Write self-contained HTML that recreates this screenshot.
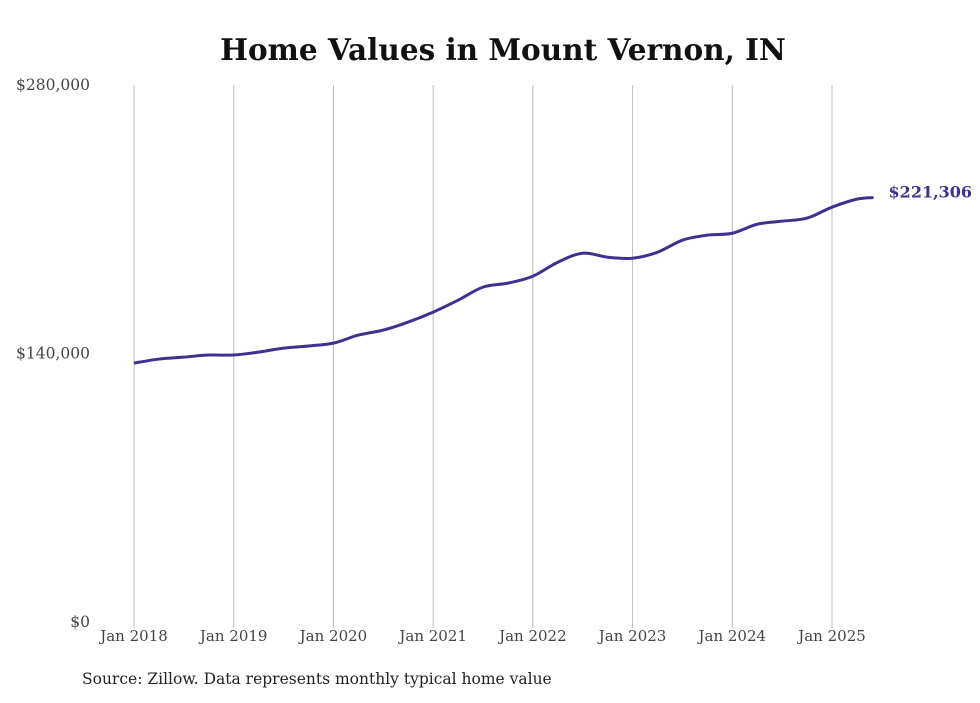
<!DOCTYPE html>
<html><head><meta charset="utf-8"><style>
body{margin:0;background:#fff;width:980px;height:699px;overflow:hidden;font-family:"DejaVu Serif","Liberation Serif",serif}
</style></head><body>
<svg width="980" height="699" xmlns="http://www.w3.org/2000/svg">
<text x="503" y="60" text-anchor="middle" font-size="29.5" font-weight="bold" fill="#111">Home Values in Mount Vernon, IN</text>
<g id="grid"></g><g id="ylab"></g><g id="xlab"></g>
<path id="line" fill="none" stroke="#3d3290" stroke-width="3"/>
<text id="endlab" font-size="16" font-weight="bold" fill="#3d3290"></text>
<text x="82" y="684" font-size="15.5" fill="#222" font-family="DejaVu Serif, serif">Source: Zillow. Data represents monthly typical home value</text>
</svg>
<script>
const years=["Jan 2018","Jan 2019","Jan 2020","Jan 2021","Jan 2022","Jan 2023","Jan 2024","Jan 2025"];
const yTicks=[0,140000,280000];
const yTickLabels=["$0","$140,000","$280,000"];
const months=[0,3,6,9,12,15,18,21,24,27,30,33,36,39,42,45,48,51,54,57,60,63,66,69,72,75,78,81,84,87,89];
const values=[135000,137100,138100,139200,139200,140700,142800,143900,145400,149600,152200,156400,161600,167800,174600,176700,180300,187600,192300,190200,189700,192800,199100,201700,202700,207400,209000,210600,216300,220500,221306];
const endLabel="$221,306";
const ns="http://www.w3.org/2000/svg";
const x=m=>134+m*(698/84);
const y=v=>622-v*(537/280000);
const grid=document.getElementById('grid'),yl=document.getElementById('ylab'),xl=document.getElementById('xlab');
years.forEach((t,i)=>{
 const l=document.createElementNS(ns,'line');
 
 
 l.setAttribute('x1',x(i*12));l.setAttribute('x2',x(i*12));l.setAttribute('y1',85);l.setAttribute('y2',628);
 l.setAttribute('stroke','#bbb');l.setAttribute('stroke-width','1');grid.appendChild(l);
 const tx=document.createElementNS(ns,'text');
 
 
 tx.setAttribute('x',x(i*12));tx.setAttribute('y',641);tx.setAttribute('text-anchor','middle');
 tx.setAttribute('font-size','15');tx.setAttribute('fill','#444');tx.textContent=t;xl.appendChild(tx);
});
yTicks.forEach((v,i)=>{
 const tx=document.createElementNS(ns,'text');
 
 
 tx.setAttribute('x',90);tx.setAttribute('y',y(v)+5);tx.setAttribute('text-anchor','end');
 tx.setAttribute('font-size','15.5');tx.setAttribute('fill','#444');tx.textContent=yTickLabels[i];yl.appendChild(tx);
});
const P=months.map((m,i)=>[x(m),y(values[i])]);
let d='M'+P[0][0]+','+P[0][1];
for(let i=0;i<P.length-1;i++){
 const p0=P[i-1]||P[i],p1=P[i],p2=P[i+1],p3=P[i+2]||P[i+1];
 const c1=[p1[0]+(p2[0]-p0[0])/6,p1[1]+(p2[1]-p0[1])/6],c2=[p2[0]-(p3[0]-p1[0])/6,p2[1]-(p3[1]-p1[1])/6];
 d+=' C'+c1+' '+c2+' '+p2;
}
document.getElementById('line').setAttribute('d',d);
const el=document.getElementById('endlab');
const last=P[P.length-1];
el.setAttribute('x',last[0]+15);el.setAttribute('y',last[1]+0);el.textContent=endLabel;
</script>
</body></html>
